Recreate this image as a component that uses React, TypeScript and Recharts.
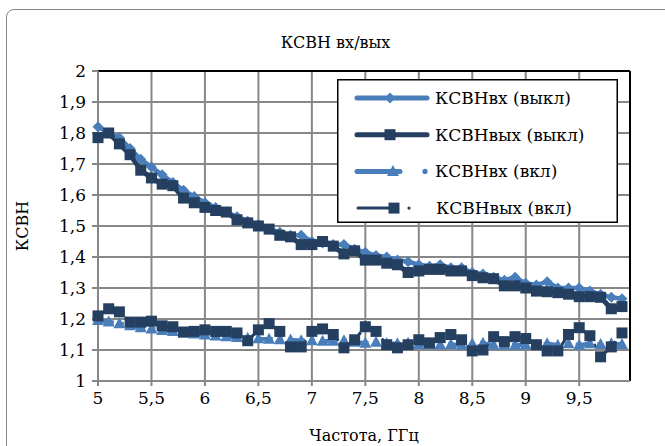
import React from "react";
import {
  LineChart,
  Line,
  XAxis,
  YAxis,
  CartesianGrid,
  ReferenceLine,
} from "recharts";

const freq = [
  5.0, 5.1, 5.2, 5.3, 5.4, 5.5, 5.6, 5.7, 5.8, 5.9,
  6.0, 6.1, 6.2, 6.3, 6.4, 6.5, 6.6, 6.7, 6.8, 6.9,
  7.0, 7.1, 7.2, 7.3, 7.4, 7.5, 7.6, 7.7, 7.8, 7.9,
  8.0, 8.1, 8.2, 8.3, 8.4, 8.5, 8.6, 8.7, 8.8, 8.9,
  9.0, 9.1, 9.2, 9.3, 9.4, 9.5, 9.6, 9.7, 9.8, 9.9,
];

// КСВНвх (выкл)
const vswrInOff = [
  1.82, 1.8, 1.785, 1.75, 1.715, 1.69, 1.665, 1.64, 1.615, 1.595,
  1.575, 1.56, 1.545, 1.53, 1.515, 1.505, 1.49, 1.48, 1.47, 1.47,
  1.45, 1.445, 1.44, 1.44, 1.425, 1.415, 1.405, 1.4, 1.39, 1.385,
  1.375, 1.37, 1.375, 1.365, 1.365, 1.35, 1.345, 1.335, 1.325, 1.335,
  1.315, 1.31, 1.32, 1.3, 1.3, 1.3, 1.29, 1.28, 1.27, 1.265,
];

// КСВНвых (выкл)
const vswrOutOff = [
  1.785, 1.8, 1.765, 1.73, 1.68, 1.655, 1.635, 1.63, 1.59, 1.575,
  1.56, 1.55, 1.545, 1.52, 1.51, 1.5, 1.49, 1.47, 1.465, 1.44,
  1.44, 1.45, 1.435, 1.41, 1.42, 1.39, 1.39, 1.38, 1.375, 1.35,
  1.355, 1.36, 1.36, 1.355, 1.355, 1.34, 1.333, 1.33, 1.307, 1.307,
  1.3, 1.29, 1.288, 1.285, 1.28, 1.272, 1.272, 1.27, 1.233, 1.24,
];

// КСВНвх (вкл)
const vswrInOn = [
  1.195, 1.19, 1.185, 1.178, 1.172, 1.168, 1.163, 1.16, 1.155, 1.152,
  1.148, 1.145, 1.143, 1.14, 1.138, 1.136, 1.135, 1.133, 1.132, 1.13,
  1.13, 1.128, 1.128, 1.13, 1.125, 1.122, 1.125, 1.12, 1.12, 1.122,
  1.118, 1.118, 1.117, 1.118, 1.115, 1.12, 1.122, 1.115, 1.116, 1.115,
  1.116, 1.115, 1.12, 1.115, 1.12, 1.115, 1.12, 1.118, 1.12, 1.118,
];

// КСВНвых (вкл)
const vswrOutOn = [
  1.21, 1.233, 1.223, 1.19, 1.19, 1.193, 1.178, 1.175, 1.158, 1.16,
  1.165, 1.16, 1.16, 1.155, 1.13, 1.165, 1.185, 1.16, 1.11, 1.11,
  1.16, 1.168, 1.15, 1.107, 1.133, 1.175, 1.16, 1.117, 1.107, 1.117,
  1.133, 1.123, 1.14, 1.15, 1.133, 1.097, 1.1, 1.143, 1.127, 1.143,
  1.137, 1.117, 1.097, 1.097, 1.15, 1.172, 1.146, 1.078, 1.11, 1.155,
];

const xTicks = [5, 5.5, 6, 6.5, 7, 7.5, 8, 8.5, 9, 9.5];
const yTicks = [1, 1.1, 1.2, 1.3, 1.4, 1.5, 1.6, 1.7, 1.8, 1.9, 2];

const LIGHT = "#4A7EBB";
const DARK = "#243F60";
const GRID = "#878787";
const FONT = "'DejaVu Serif', serif";

const data = freq.map((f, i) => ({
  f,
  inOff: vswrInOff[i],
  outOff: vswrOutOff[i],
  inOn: vswrInOn[i],
  outOn: vswrOutOn[i],
}));

const fmt = (v: number) => String(Math.round(v * 10) / 10).replace(".", ",");

const Diamond = (props: any) => {
  const { cx, cy, index } = props;
  if (cx == null || cy == null) return <g key={index} />;
  const r = 5.5;
  return (
    <path
      key={index}
      d={`M${cx},${cy - r}L${cx + r},${cy}L${cx},${cy + r}L${cx - r},${cy}Z`}
      fill={LIGHT}
    />
  );
};

const Triangle = (props: any) => {
  const { cx, cy, index } = props;
  if (cx == null || cy == null) return <g key={index} />;
  return (
    <path
      key={index}
      d={`M${cx},${cy - 6.5}L${cx + 6},${cy + 4.5}L${cx - 6},${cy + 4.5}Z`}
      fill={LIGHT}
    />
  );
};

const Square = (props: any) => {
  const { cx, cy, index } = props;
  if (cx == null || cy == null) return <g key={index} />;
  return <rect key={index} x={cx - 5.5} y={cy - 5.5} width={11} height={11} fill={DARK} />;
};

const LegendBox = () => {
  const rows = [0, 1, 2, 3].map((i) => 19 + i * 36.7);
  const textStyle = { fontFamily: FONT, fontSize: 17, fill: "#000" };
  return (
    <svg width={281} height={144} style={{ display: "block" }}>
      <rect x={0.75} y={0.75} width={279.5} height={142.5} fill="#fff" stroke="#000" strokeWidth={1.5} />
      {/* КСВНвх (выкл) */}
      <line x1={20} x2={90} y1={rows[0]} y2={rows[0]} stroke={LIGHT} strokeWidth={5} strokeLinecap="round" />
      <Diamond cx={53} cy={rows[0]} />
      <text x={98} y={rows[0]} dy="0.35em" style={textStyle}>КСВНвх (выкл)</text>
      {/* КСВНвых (выкл) */}
      <line x1={20} x2={90} y1={rows[1]} y2={rows[1]} stroke={DARK} strokeWidth={5} strokeLinecap="round" />
      <Square cx={53} cy={rows[1]} />
      <text x={98} y={rows[1]} dy="0.35em" style={textStyle}>КСВНвых (выкл)</text>
      {/* КСВНвх (вкл) */}
      <line x1={20} x2={63} y1={rows[2]} y2={rows[2]} stroke={LIGHT} strokeWidth={5} strokeLinecap="round" />
      <circle cx={88} cy={rows[2]} r={2.6} fill={LIGHT} />
      <Triangle cx={56} cy={rows[2]} />
      <text x={98} y={rows[2]} dy="0.35em" style={textStyle}>КСВНвх (вкл)</text>
      {/* КСВНвых (вкл) */}
      <line x1={21} x2={60} y1={rows[3]} y2={rows[3]} stroke={DARK} strokeWidth={3} strokeLinecap="round" />
      <circle cx={72} cy={rows[3]} r={1.6} fill={DARK} />
      <Square cx={57} cy={rows[3]} />
      <text x={99} y={rows[3]} dy="0.35em" style={textStyle}>КСВНвых (вкл)</text>
    </svg>
  );
};

export default function App() {
  return (
    <div
      style={{
        position: "relative",
        width: 665,
        height: 446,
        overflow: "hidden",
        background: "#fff",
        fontFamily: FONT,
      }}
    >
      <style>{"body{margin:0}"}</style>
      <div
        style={{
          position: "absolute",
          left: 6,
          top: 9,
          width: 690,
          height: 480,
          border: `1.5px solid ${GRID}`,
          borderRadius: 8,
          boxSizing: "border-box",
        }}
      />
      <div
        style={{
          position: "absolute",
          left: 6,
          width: 659,
          top: 32,
          textAlign: "center",
          fontSize: 16,
          lineHeight: "22px",
          color: "#000",
        }}
      >
        КСВН вх/вых
      </div>
      <div style={{ position: "absolute", left: 0, top: 0 }}>
        <LineChart
          width={665}
          height={446}
          data={data}
          margin={{ top: 71, right: 35, left: 0, bottom: 0 }}
        >
          <CartesianGrid stroke={GRID} strokeWidth={2} />
          <XAxis
            dataKey="f"
            type="number"
            domain={[5, 9.975]}
            ticks={xTicks}
            tickFormatter={fmt}
            height={65}
            axisLine={{ stroke: GRID, strokeWidth: 2 }}
            tickLine={{ stroke: GRID, strokeWidth: 2 }}
            tickSize={5}
            tickMargin={6}
            tick={{ fill: "#000", fontSize: 17, fontFamily: FONT }}
            label={{
              value: "Частота, ГГц",
              position: "insideBottom",
              offset: 5,
              style: { fill: "#000", fontSize: 16, fontFamily: FONT },
            }}
          />
          <YAxis
            type="number"
            domain={[1, 2]}
            ticks={yTicks}
            tickFormatter={fmt}
            width={98}
            axisLine={{ stroke: GRID, strokeWidth: 2 }}
            tickLine={{ stroke: GRID, strokeWidth: 2 }}
            tickSize={6}
            tickMargin={6}
            tick={{ fill: "#000", fontSize: 17, fontFamily: FONT }}
            label={{
              value: "КСВН",
              angle: -90,
              position: "insideLeft",
              offset: 22,
              style: { fill: "#000", fontSize: 16, fontFamily: FONT, textAnchor: "middle" },
            }}
          />
          <ReferenceLine y={2} stroke="#000" strokeWidth={2} />
          <ReferenceLine x={9.975} stroke="#000" strokeWidth={2} />
          <Line
            dataKey="inOff"
            stroke={LIGHT}
            strokeWidth={4.5}
            strokeLinejoin="round"
            dot={Diamond}
            activeDot={false}
            isAnimationActive={false}
          />
          <Line
            dataKey="outOff"
            stroke={DARK}
            strokeWidth={5}
            strokeLinejoin="round"
            dot={Square}
            activeDot={false}
            isAnimationActive={false}
          />
          <Line
            dataKey="inOn"
            stroke={LIGHT}
            strokeWidth={4.5}
            strokeDasharray="16 6 4 6"
            strokeLinejoin="round"
            dot={Triangle}
            activeDot={false}
            isAnimationActive={false}
          />
          <Line
            dataKey="outOn"
            stroke={DARK}
            strokeWidth={3}
            strokeDasharray="16 6 4 6"
            strokeLinejoin="round"
            dot={Square}
            activeDot={false}
            isAnimationActive={false}
          />
        </LineChart>
      </div>
      <div style={{ position: "absolute", left: 337, top: 79 }}>
        <LegendBox />
      </div>
    </div>
  );
}
